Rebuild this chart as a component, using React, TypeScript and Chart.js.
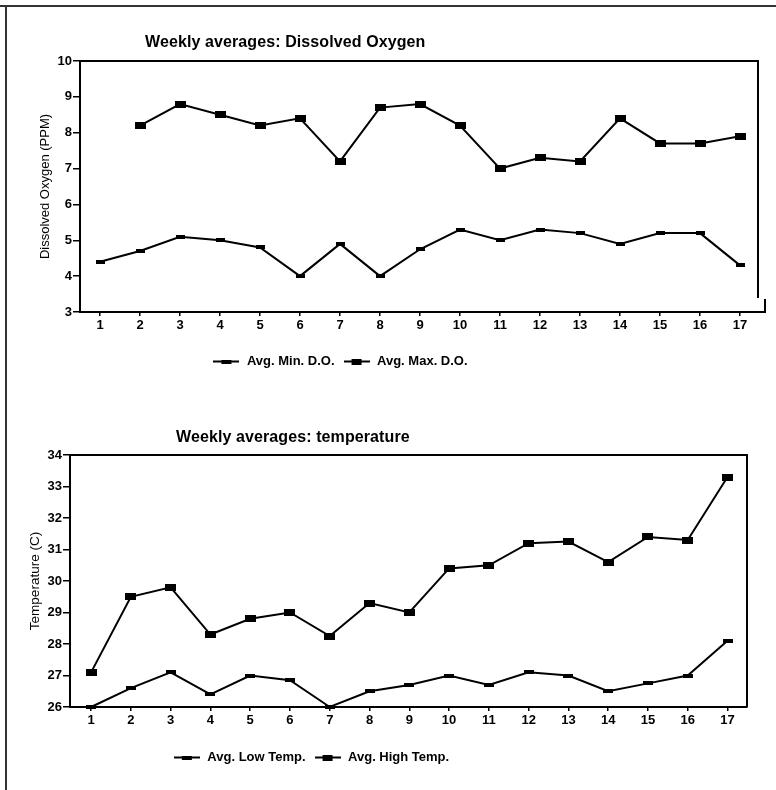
import React, { useEffect, useRef } from 'react';
import { Chart, registerables } from 'chart.js';

Chart.register(...registerables);

// ---------- data ----------
const weeks = [1, 2, 3, 4, 5, 6, 7, 8, 9, 10, 11, 12, 13, 14, 15, 16, 17];
const minDO = [4.4, 4.7, 5.1, 5.0, 4.8, 4.0, 4.9, 4.0, 4.75, 5.3, 5.0, 5.3, 5.2, 4.9, 5.2, 5.2, 4.3];
const maxDO = [null, 8.2, 8.8, 8.5, 8.2, 8.4, 7.2, 8.7, 8.8, 8.2, 7.0, 7.3, 7.2, 8.4, 7.7, 7.7, 7.9];
const lowTemp = [26.0, 26.6, 27.1, 26.4, 27.0, 26.85, 26.0, 26.5, 26.7, 27.0, 26.7, 27.1, 27.0, 26.5, 26.75, 27.0, 28.1];
const highTemp = [27.1, 29.5, 29.8, 28.3, 28.8, 29.0, 28.25, 29.3, 29.0, 30.4, 30.5, 31.2, 31.25, 30.6, 31.4, 31.3, 33.3];
const doTicks = [3, 4, 5, 6, 7, 8, 9, 10];
const tempTicks = [26, 27, 28, 29, 30, 31, 32, 33, 34];

const doTitle = 'Weekly averages: Dissolved Oxygen';
const tempTitle = 'Weekly averages: temperature';
const doAxisTitle = 'Dissolved Oxygen (PPM)';
const tempAxisTitle = 'Temperature (C)';
const doLabels = ['Avg. Min. D.O.', 'Avg. Max. D.O.'];
const tempLabels = ['Avg. Low Temp.', 'Avg. High Temp.'];

const FONT = "'Liberation Sans', Arial, Helvetica, sans-serif";

function marker(w: number, h: number): HTMLCanvasElement {
  const c = document.createElement('canvas');
  c.width = w;
  c.height = h;
  const ctx = c.getContext('2d')!;
  ctx.fillStyle = '#000';
  ctx.fillRect(0, 0, w, h);
  return c;
}

function legendIcon(lineW: number, lineH: number, rw: number, rh: number): HTMLCanvasElement {
  const h = Math.max(lineH, rh);
  const c = document.createElement('canvas');
  c.width = lineW;
  c.height = h;
  const ctx = c.getContext('2d')!;
  ctx.fillStyle = '#000';
  ctx.fillRect(0, (h - lineH) / 2, lineW, lineH);
  if (rw > 0) ctx.fillRect((lineW - rw) / 2, (h - rh) / 2, rw, rh);
  return c;
}

const framePlugin = {
  id: 'plotFrame',
  beforeDatasetsDraw(chart: any, _args: any, opts: any) {
    const { ctx, chartArea } = chart;
    const hook = (opts && opts.hook) || 0;
    ctx.save();
    ctx.strokeStyle = '#000';
    ctx.lineWidth = 2;
    ctx.beginPath();
    ctx.moveTo(chartArea.left, chartArea.top);
    ctx.lineTo(chartArea.right, chartArea.top);
    ctx.lineTo(chartArea.right, chartArea.bottom - (hook ? 14 : 0));
    ctx.stroke();
    if (hook) {
      ctx.beginPath();
      ctx.moveTo(chartArea.right - 1, chartArea.bottom);
      ctx.lineTo(chartArea.right + hook, chartArea.bottom);
      ctx.lineTo(chartArea.right + hook, chartArea.bottom - 13);
      ctx.stroke();
    }
    ctx.restore();
  },
};

const legendShiftPlugin = {
  id: 'legendShift',
  afterLayout(chart: any, _args: any, opts: any) {
    const lg = chart.legend;
    if (lg && opts && opts.dx) {
      lg.left += opts.dx;
      lg.right += opts.dx;
    }
  },
};

function buildConfig(cfg: any) {
  const small = marker(cfg.smallMarker[0], cfg.smallMarker[1]);
  const big = marker(cfg.bigMarker[0], cfg.bigMarker[1]);
  const icons = [legendIcon(26, 2, 10, 4), legendIcon(26, 2, 10, 6)];
  const styles = [small, big];
  return {
    type: 'line',
    data: {
      datasets: cfg.series.map((vals: (number | null)[], i: number) => ({
        label: cfg.labels[i],
        data: weeks.map((w, j) => ({ x: w, y: vals[j] })),
        borderColor: '#000',
        backgroundColor: '#000',
        borderWidth: 2,
        tension: 0,
        pointStyle: styles[i],
        pointRadius: 4,
        clip: false,
        spanGaps: false,
      })),
    },
    options: {
      responsive: false,
      animation: false,
      events: [],
      devicePixelRatio: 1,
      layout: { padding: cfg.padding },
      plugins: {
        title: { display: false },
        tooltip: { enabled: false },
        legend: {
          display: true,
          position: 'bottom',
          labels: {
            usePointStyle: true,
            pointStyleWidth: 28,
            padding: 8,
            color: '#000',
            font: { family: FONT, size: 13, weight: 'bold' },
            generateLabels: () =>
              cfg.labels.map((t: string, i: number) => ({
                text: t,
                pointStyle: icons[i],
                fillStyle: '#000',
                strokeStyle: '#000',
                lineWidth: 0,
                hidden: false,
                datasetIndex: i,
                fontColor: '#000',
              })),
          },
        },
        legendShift: { dx: cfg.legendDx },
        plotFrame: { hook: cfg.hook },
      },
      scales: {
        x: {
          type: 'linear',
          min: cfg.xMin,
          max: cfg.xMax,
          afterBuildTicks: (s: any) => {
            s.ticks = weeks.map((w) => ({ value: w }));
          },
          afterFit: (s: any) => {
            s.height = cfg.xHeight;
          },
          ticks: {
            color: '#000',
            font: { family: FONT, size: 13, weight: 'bold' },
            padding: 2,
            maxRotation: 0,
            autoSkip: false,
            callback: (v: any) => String(v),
          },
          grid: {
            display: true,
            drawOnChartArea: false,
            drawTicks: true,
            tickLength: 4,
            color: '#000',
            lineWidth: 1.5,
          },
          border: { display: true, color: '#000', width: 2 },
        },
        y: {
          type: 'linear',
          min: cfg.yTicks[0],
          max: cfg.yTicks[cfg.yTicks.length - 1],
          afterBuildTicks: (s: any) => {
            s.ticks = cfg.yTicks.map((v: number) => ({ value: v }));
          },
          afterFit: (s: any) => {
            s.width = cfg.yWidth;
          },
          ticks: {
            color: '#000',
            font: { family: FONT, size: 13, weight: 'bold' },
            padding: 1,
            autoSkip: false,
            callback: (v: any) => String(v),
          },
          grid: {
            display: true,
            drawOnChartArea: false,
            drawTicks: true,
            tickLength: 7,
            color: '#000',
            lineWidth: 1.5,
          },
          border: { display: true, color: '#000', width: 2 },
          title: {
            display: true,
            text: cfg.yTitle,
            color: '#000',
            padding: 0,
            font: { family: FONT, size: cfg.yTitleSize, weight: 'normal' },
          },
        },
      },
    },
    plugins: [framePlugin, legendShiftPlugin],
  };
}

function ChartCanvas({ cfg, width, height, top }: any) {
  const ref = useRef<HTMLCanvasElement | null>(null);
  useEffect(() => {
    if (!ref.current) return;
    const chart = new Chart(ref.current, buildConfig(cfg) as any);
    return () => chart.destroy();
  }, []);
  return (
    <canvas
      ref={ref}
      width={width}
      height={height}
      style={{ position: 'absolute', left: 0, top, width, height }}
    />
  );
}

export default function App() {
  const doCfg = {
    series: [minDO, maxDO],
    labels: doLabels,
    yTicks: doTicks,
    yTitle: doAxisTitle,
    xMin: 0.5,
    xMax: 17.45,
    padding: { left: 38, right: 18, top: 61, bottom: 12 },
    yWidth: 42,
    xHeight: 35,
    yTitleSize: 13,
    legendDx: -58,
    smallMarker: [9, 4],
    bigMarker: [11, 7],
    hook: 7,
  };
  const tempCfg = {
    series: [lowTemp, highTemp],
    labels: tempLabels,
    yTicks: tempTicks,
    yTitle: tempAxisTitle,
    xMin: 0.47,
    xMax: 17.49,
    padding: { left: 27, right: 29, top: 65, bottom: 16 },
    yWidth: 43,
    xHeight: 36,
    yTitleSize: 13.5,
    legendDx: -76,
    smallMarker: [10, 4],
    bigMarker: [11, 7],
    hook: 0,
  };
  const titleStyle: React.CSSProperties = {
    position: 'absolute',
    fontFamily: FONT,
    fontSize: 16,
    fontWeight: 'bold',
    lineHeight: '18px',
    color: '#000',
    whiteSpace: 'nowrap',
    letterSpacing: '0.1px',
  };
  return (
    <div
      style={{
        position: 'fixed',
        left: 0,
        top: 0,
        width: 776,
        height: 790,
        background: '#fff',
        overflow: 'hidden',
      }}
    >
      <div style={{ position: 'absolute', left: 0, top: 5, width: 776, height: 2, background: '#333' }} />
      <div style={{ position: 'absolute', left: 5, top: 5, width: 2, height: 785, background: '#333' }} />
      <ChartCanvas cfg={doCfg} width={776} height={390} top={0} />
      <ChartCanvas cfg={tempCfg} width={776} height={400} top={390} />
      <div style={{ ...titleStyle, left: 145, top: 33 }}>{doTitle}</div>
      <div style={{ ...titleStyle, left: 176, top: 428 }}>{tempTitle}</div>
    </div>
  );
}
